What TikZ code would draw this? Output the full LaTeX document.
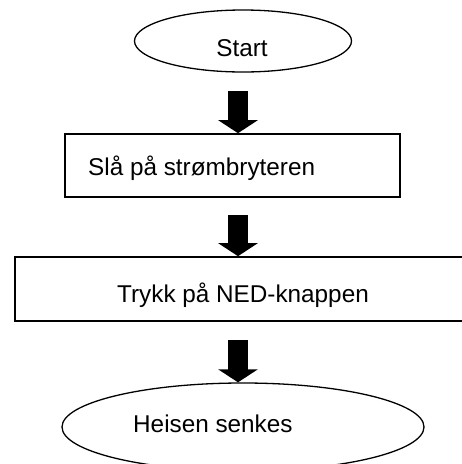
\documentclass[tikz,border=0pt]{standalone}
\usepackage{fontspec}
\setmainfont{Liberation Sans}
\usetikzlibrary{shapes.geometric,arrows.meta}
\begin{document}
\begin{tikzpicture}[x=1pt,y=-1pt,
  oval/.style={draw,ellipse,line width=1.3pt,inner sep=0pt},
  stepbox/.style={draw,rectangle,line width=1.6pt,inner sep=0pt},
  txt/.style={font=\fontsize{24.3}{29}\selectfont,inner sep=0pt},
  blockarrow/.style={line width=20pt,-{Triangle[length=13pt,width=39pt]}}]
\useasboundingbox (0,0) rectangle (462,464);
\clip (0,0) rectangle (462,464);
\node[oval,minimum width=217pt,minimum height=62pt] (start) at (243,41) {};
\node[txt,anchor=base] (starttxt) at (242,56) {Start};
\node[stepbox,minimum width=335pt,minimum height=63pt] (box1) at (232.5,165.5) {};
\node[txt,anchor=base west] (box1txt) at (88,175) {Slå på strømbryteren};
\node[stepbox,minimum width=460pt,minimum height=64pt] (box2) at (245,289) {};
\node[txt,anchor=base] (box2txt) at (243,302) {Trykk på NED-knappen};
\node[oval,minimum width=362pt,minimum height=88pt] (endn) at (243,427) {};
\node[txt,anchor=base west] (endtxt) at (133,432) {Heisen senkes};
\coordinate (a1s) at (238,91);
\coordinate (a2s) at (238,215);
\coordinate (a3s) at (238,340);
\draw[blockarrow] (a1s) -- (a1s |- box1.north);
\draw[blockarrow] (a2s) -- (a2s |- box2.north);
\draw[blockarrow] (a3s) -- (a3s |- endn.north);
\end{tikzpicture}
\end{document}
